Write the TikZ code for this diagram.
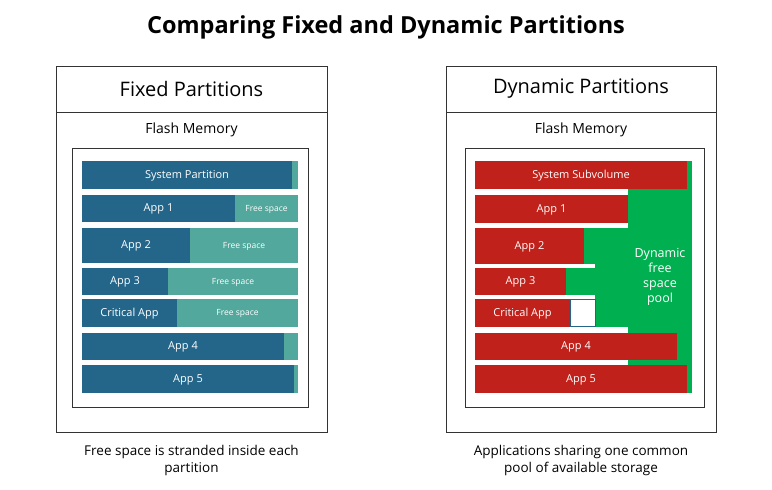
\documentclass[tikz,border=0pt]{standalone}
\usepackage{fontspec}
\setmainfont{Open Sans}
\definecolor{dblue}{HTML}{23668A}
\definecolor{teal}{HTML}{52A89C}
\definecolor{dred}{HTML}{C0211A}
\definecolor{pgreen}{HTML}{00B050}
\begin{document}
\begin{tikzpicture}[x=1pt,y=-1pt,
  bar/.style={inner sep=0pt,font=\fontsize{11}{13}\selectfont,text=white,text height=8pt,text depth=2pt},
  frame/.style={draw=black!80,line width=0.8pt},
  small/.style={inner sep=0pt,font=\fontsize{8.5}{10}\selectfont,text=white,text height=7pt,text depth=2pt}]
\useasboundingbox (0,0) rectangle (772,490);
\node[font=\bfseries\fontsize{23.5}{28}\selectfont] (title) at (386,27) {Comparing Fixed and Dynamic Partitions};
% left panel
\draw[frame] (56,66) rectangle (327,432);
\draw[frame] (56,112) -- (327,112);
\node[font=\fontsize{20}{24}\selectfont] (lt) at (191.5,89) {Fixed Partitions};
\node[font=\fontsize{14}{17}\selectfont] (lf) at (191.5,130) {Flash Memory};
\draw[frame] (72,148) rectangle (308,407);
\foreach \ya/\yb/\xd/\lab/\fr in {161/189/292/System Partition/,195/222/235/App 1/Free space,228/263/190/App 2/Free space,268/295/168/App 3/Free space,299/327/177/Critical App/Free space,333/360/284/App 4/,365/393/294/App 5/}{
  \fill[teal] (82,\ya) rectangle (298,\yb);
  \fill[dblue] (82,\ya) rectangle (\xd,\yb);
  \node[bar] at ({(82+\xd)/2},{(\ya+\yb)/2}) {\lab};
  \node[small] at ({(\xd+298)/2},{(\ya+\yb)/2}) {\fr};
}
\node[font=\fontsize{13.5}{17}\selectfont,align=center] (lc) at (191.5,460) {Free space is stranded inside each\\partition};
% right panel
\draw[frame] (446,66) rectangle (716,432);
\draw[frame] (446,112) -- (716,112);
\node[font=\fontsize{20}{24}\selectfont] (rt) at (581,89) {Dynamic Partitions};
\node[font=\fontsize{14}{17}\selectfont] (rf) at (581,130) {Flash Memory};
\draw[frame] (465,148) rectangle (704,407);
\fill[pgreen] (628,161) rectangle (692,393);
\fill[pgreen] (566,228) rectangle (628,327);
\fill[white] (475,264) rectangle (595,268);
\fill[white] (475,295) rectangle (595,299);
\foreach \ya/\yb/\xd/\lab in {161/189/687/System Subvolume,195/223/628/App 1,228/264/584/App 2,268/295/566/App 3,299/327/570/Critical App,333/360/677/App 4,365/393/687/App 5}{
  \fill[dred] (475,\ya) rectangle (\xd,\yb);
  \node[bar] at ({(475+\xd)/2},{(\ya+\yb)/2}) {\lab};
}
\draw[fill=white,draw=dblue,line width=0.8pt] (570,299.5) rectangle (595,326.5);
\node[font=\fontsize{12.5}{15}\selectfont,text=white,align=center] (pool) at (660,277) {Dynamic\\free\\space\\pool};
\node[font=\fontsize{13.5}{17}\selectfont,align=center] (rc) at (581,460) {Applications sharing one common\\pool of available storage};
\end{tikzpicture}
\end{document}
